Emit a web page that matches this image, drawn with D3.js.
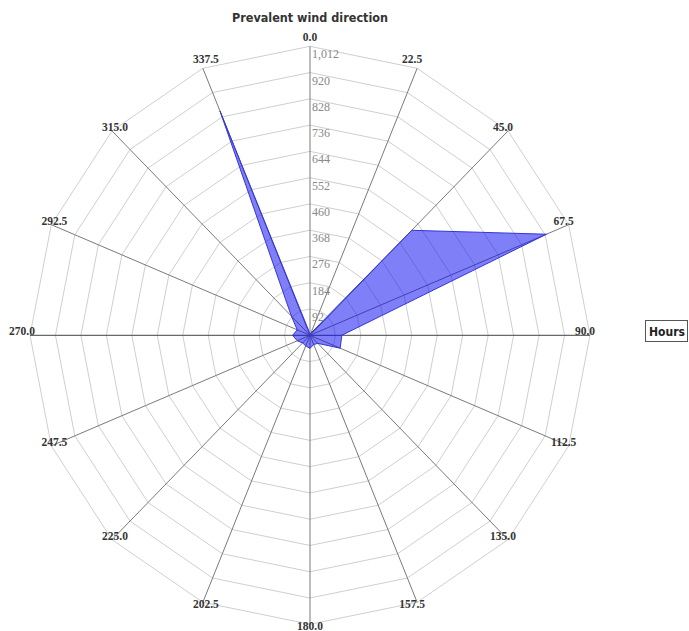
<!DOCTYPE html>
<html>
<head>
<meta charset="utf-8">
<script src="https://cdn.jsdelivr.net/npm/d3@7/dist/d3.min.js"></script>
<style>
  html, body { margin: 0; padding: 0; background: #fff; }
  svg { display: block; }
</style>
</head>
<body>
<svg id="chart" width="689" height="631"></svg>
<script>
// Compass sectors (degrees) and hours of wind from each sector
const directions = ["0.0", "22.5", "45.0", "67.5", "90.0", "112.5", "135.0", "157.5",
                    "180.0", "202.5", "225.0", "247.5", "270.0", "292.5", "315.0", "337.5"];
const hours = [5, 8, 520, 925, 115, 118, 40, 35, 46, 40, 38, 50, 63, 50, 95, 850];
const tickValues = [92, 184, 276, 368, 460, 552, 644, 736, 828, 920, 1012];
const title = "Prevalent wind direction";
const legendLabel = "Hours";

const svg = d3.select("#chart");
const cx = 310, cy = 335.3, rx = 280, ry = 289;

const r = d3.scaleLinear().domain([0, d3.max(tickValues)]).range([0, 1]);
const angle = d3.scaleLinear().domain([0, directions.length]).range([0, 2 * Math.PI]);

const px = (i, v) => cx + rx * r(v) * Math.sin(angle(i));
const py = (i, v) => cy - ry * r(v) * Math.cos(angle(i));

// concentric polygon grid
const ring = d3.line().x(d => d[0]).y(d => d[1]).curve(d3.curveLinearClosed);
svg.append("g").selectAll("path").data(tickValues).join("path")
  .attr("d", t => ring(directions.map((_, i) => [px(i, t), py(i, t)])))
  .attr("fill", "none").attr("stroke", "#cfcfcf").attr("stroke-width", 1);

// spokes
const maxV = d3.max(tickValues);
svg.append("g").selectAll("line").data(directions).join("line")
  .attr("x1", cx).attr("y1", cy)
  .attr("x2", (d, i) => px(i, maxV)).attr("y2", (d, i) => py(i, maxV))
  .attr("stroke", (d, i) => i === 4 || i === 12 ? "#444" : "#7a7a7a")
  .attr("stroke-width", 1);

// data polygon
const area = d3.line().x(d => px(d.i, d.v)).y(d => py(d.i, d.v)).curve(d3.curveLinearClosed);
svg.append("path")
  .datum(hours.map((v, i) => ({ i, v })))
  .attr("d", area)
  .attr("fill", "rgba(10,10,240,0.52)")
  .attr("stroke", "#3636d6")
  .attr("stroke-width", 1);

// radial tick labels along the north axis
const fmt = d3.format(",");
svg.append("g").selectAll("text").data(tickValues).join("text")
  .attr("x", cx + 2)
  .attr("y", t => py(0, t) + 12)
  .attr("font-family", "Liberation Serif, serif")
  .attr("font-size", 12)
  .attr("fill", "#888")
  .text(t => fmt(t));

// direction labels at the outer vertices
svg.append("g").selectAll("text").data(directions).join("text")
  .attr("x", (d, i) => {
    const s = Math.sin(angle(i));
    return px(i, maxV) + (s > 0.1 ? -5 : s < -0.99 ? -8 : s < -0.1 ? 3 : 0);
  })
  .attr("y", (d, i) => {
    const c = Math.cos(angle(i));
    return py(i, maxV) + (c > 0.9 ? -5 : c < -0.9 ? 6 : 0);
  })
  .attr("text-anchor", "middle")
  .attr("font-family", "Liberation Serif, serif")
  .attr("font-weight", "bold")
  .attr("font-size", 11.5)
  .attr("fill", "#333")
  .text(d => d);

// title
svg.append("text")
  .attr("x", cx).attr("y", 22)
  .attr("text-anchor", "middle")
  .attr("font-family", "DejaVu Sans Condensed, DejaVu Sans, sans-serif")
  .attr("font-weight", "bold")
  .attr("font-size", 12.5)
  .attr("fill", "#333")
  .text(title);

// legend box
const lg = svg.append("g");
lg.append("rect").attr("x", 645.5).attr("y", 320.5).attr("width", 42).attr("height", 21)
  .attr("fill", "#fff").attr("stroke", "#555").attr("stroke-width", 1);
lg.append("text").attr("x", 649).attr("y", 335.5)
  .attr("font-family", "DejaVu Sans Condensed, DejaVu Sans, sans-serif")
  .attr("font-weight", "bold").attr("font-size", 12).attr("fill", "#222")
  .text(legendLabel);
</script>
</body>
</html>
